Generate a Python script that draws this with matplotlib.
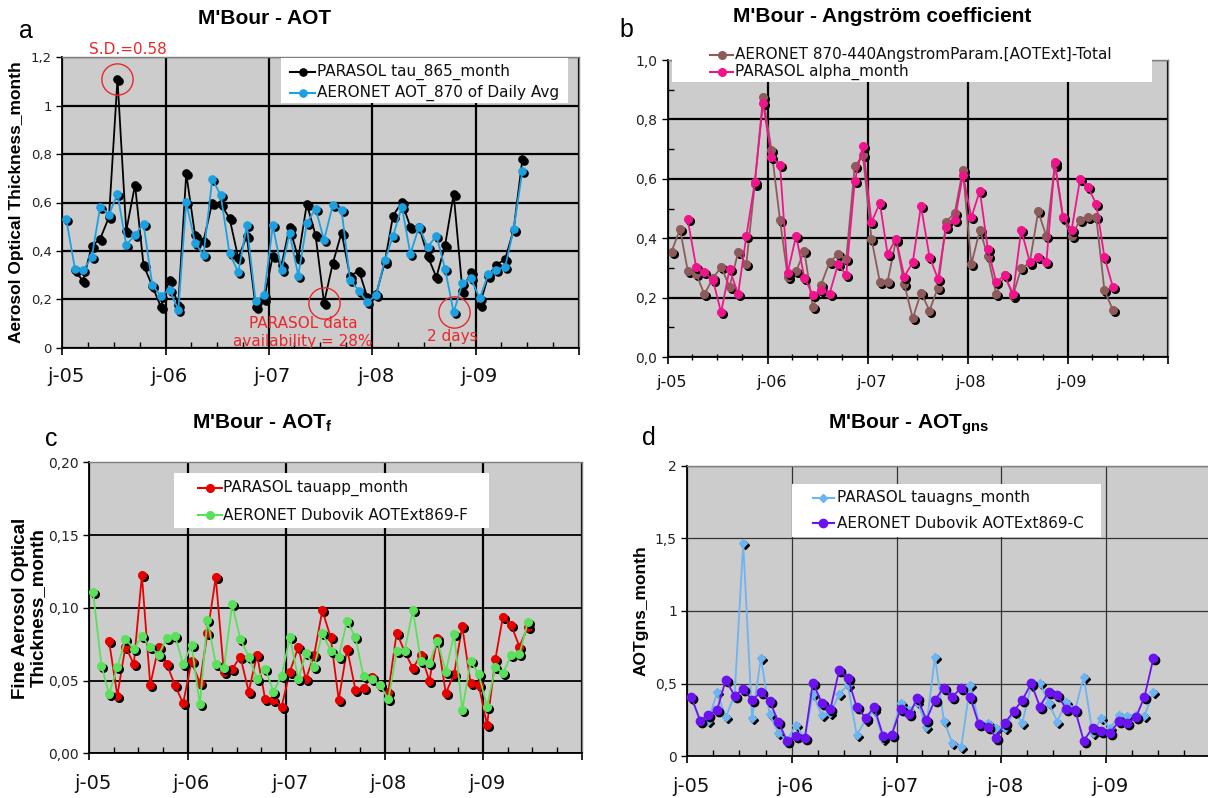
import numpy as np
import pandas as pd
import matplotlib
matplotlib.use('Agg')
import matplotlib.pyplot as plt
import matplotlib.dates as mdates
import matplotlib.transforms as mtransforms
from matplotlib.lines import Line2D
from matplotlib.patches import Rectangle
from matplotlib.ticker import FixedLocator

nan = np.nan
# ---------------- data (monthly, Jan 2005 .. Jun 2009) ----------------
months = pd.date_range('2005-01-01', '2009-06-01', freq='MS') + pd.Timedelta(days=14)
year_labels = ['j-05', 'j-06', 'j-07', 'j-08', 'j-09']

# panel a : AOT
parasol_tau865 = [nan, 0.32, 0.275, 0.42, 0.45, 0.54, 1.11, 0.483, 0.673, 0.342,
                  0.255, 0.17, 0.28, 0.177, 0.72, 0.466, 0.441, 0.60, 0.594, 0.535,
                  0.37, 0.463, 0.17, 0.20, 0.38, 0.342, 0.498, 0.37, 0.594, 0.465,
                  0.186, 0.349, 0.476, 0.295, 0.319, 0.208, 0.22, 0.355, 0.546, 0.601,
                  0.50, 0.50, 0.379, 0.291, 0.425, 0.636, 0.236, 0.314, 0.177, 0.298,
                  0.342, 0.366, 0.487, 0.779]
aeronet_aot870 = [0.531, 0.324, 0.32, 0.374, 0.583, 0.55, 0.636, 0.425, 0.466, 0.512,
                  0.259, 0.215, 0.239, 0.156, 0.601, 0.434, 0.383, 0.698, 0.629, 0.39,
                  0.312, 0.505, 0.194, 0.218, 0.505, 0.321, 0.473, 0.298, 0.514, 0.575,
                  0.445, 0.59, 0.567, 0.28, 0.236, 0.188, 0.218, 0.363, 0.462, 0.583,
                  0.388, 0.50, 0.415, 0.463, 0.324, 0.146, 0.266, 0.287, 0.204, 0.305,
                  0.321, 0.335, 0.49, 0.732]

# panel b : Angstrom coefficient
aeronet_angstrom = [0.355, 0.431, 0.291, 0.28, 0.211, 0.265, 0.303, 0.237, 0.352, 0.312,
                    0.582, 0.874, 0.698, 0.462, 0.271, 0.288, 0.358, 0.167, 0.243, 0.319,
                    0.346, 0.33, 0.642, 0.679, 0.398, 0.252, 0.254, 0.394, 0.245, 0.13,
                    0.217, 0.156, 0.234, 0.456, 0.484, 0.63, 0.312, 0.428, 0.34, 0.211,
                    0.276, 0.207, 0.299, 0.316, 0.49, 0.406, 0.647, 0.467, 0.406, 0.462,
                    0.473, 0.471, 0.224, 0.158]
parasol_alpha = [nan, nan, 0.463, 0.303, 0.285, 0.26, 0.15, 0.296, 0.211, 0.406,
                 0.588, 0.855, 0.673, 0.647, 0.282, 0.409, 0.267, 0.209, 0.226, 0.213,
                 0.312, 0.276, 0.591, 0.711, 0.454, 0.518, 0.346, 0.398, 0.271, 0.319,
                 0.509, 0.338, 0.263, 0.439, 0.46, 0.613, 0.47, 0.56, 0.364, 0.251,
                 0.276, 0.212, 0.428, 0.321, 0.338, 0.321, 0.656, 0.47, 0.428, 0.599,
                 0.572, 0.516, 0.336, 0.235]

# panel c : fine mode AOT
parasol_tauapp = [nan, nan, 0.0773, 0.0397, 0.0734, 0.0613, 0.1223, 0.047, 0.0734, 0.0615,
                  0.0466, 0.0344, 0.0631, 0.0482, 0.0826, 0.1209, 0.0557, 0.0578, 0.0665, 0.0424,
                  0.0677, 0.0374, 0.0367, 0.0321, 0.0562, 0.0729, 0.0509, 0.0677, 0.0982, 0.0798,
                  0.0367, 0.0718, 0.0436, 0.0452, 0.0523, 0.047, 0.0424, 0.083, 0.07, 0.0585,
                  0.0677, 0.05, 0.0791, 0.0413, 0.0546, 0.0872, 0.0482, 0.047, 0.0195, 0.0649,
                  0.094, 0.0879, 0.0734, 0.0865]
aeronet_fine = [0.1108, 0.0603, 0.0408, 0.059, 0.0787, 0.0716, 0.0803, 0.0734, 0.0677, 0.0791,
                0.0807, 0.0613, 0.0746, 0.0337, 0.0918, 0.0615, 0.0585, 0.1025, 0.0785, 0.0665,
                0.0512, 0.058, 0.0424, 0.0534, 0.0798, 0.0509, 0.0688, 0.0596, 0.0826, 0.0706,
                0.0665, 0.0911, 0.0796, 0.0528, 0.0509, 0.047, 0.0372, 0.07, 0.07, 0.0986,
                0.0631, 0.062, 0.0773, 0.0562, 0.0819, 0.0298, 0.0631, 0.0544, 0.0321, 0.0596,
                0.055, 0.0677, 0.0681, 0.0899]

# panel d : non-spherical coarse AOT
parasol_tauagns = [0.40, 0.24, 0.24, 0.44, 0.268, 0.42, 1.466, 0.261, 0.679, 0.291,
                   0.158, 0.112, 0.216, 0.124, 0.427, 0.284, 0.296, 0.429, 0.491, 0.147,
                   0.25, 0.319, 0.119, 0.147, 0.365, 0.319, 0.376, 0.204, 0.686, 0.245,
                   0.089, 0.067, 0.491, 0.232, 0.232, 0.197, 0.193, 0.307, 0.232, 0.491,
                   0.507, 0.365, 0.239, 0.376, 0.319, 0.548, 0.158, 0.261, 0.193, 0.284,
                   0.28, 0.284, 0.278, 0.445]
aeronet_coarse = [0.41, 0.245, 0.284, 0.319, 0.525, 0.417, 0.461, 0.388, 0.44, 0.383,
                  0.234, 0.108, 0.142, 0.124, 0.507, 0.369, 0.323, 0.594, 0.541, 0.337,
                  0.266, 0.337, 0.142, 0.147, 0.326, 0.291, 0.399, 0.25, 0.388, 0.472,
                  0.41, 0.472, 0.406, 0.22, 0.204, 0.128, 0.232, 0.312, 0.388, 0.502,
                  0.342, 0.445, 0.422, 0.326, 0.319, 0.106, 0.197, 0.174, 0.158, 0.245,
                  0.227, 0.268, 0.41, 0.674]

# ---------------- styling ----------------
plt.rcParams['font.family'] = ['DejaVu Sans']
plt.rcParams['mathtext.fontset'] = 'custom'
plt.rcParams['mathtext.bf'] = 'Liberation Sans:bold'
plt.rcParams['mathtext.rm'] = 'Liberation Sans'

BG = '#CCCCCC'
RED = '#E8282B'
W, H = 1208, 798
fig = plt.figure(figsize=(W / 100, H / 100), dpi=100)

def fx(px):
    return px / W

def fy(py):
    return 1 - py / H

def make_ax(l, r, t, b):
    return fig.add_axes([fx(l), fy(b), fx(r) - fx(l), fy(t) - fy(b)])

x = mdates.date2num(months.to_pydatetime())
year_ticks = mdates.date2num(pd.date_range('2005-01-01', '2010-01-01', freq='YS').to_pydatetime())
quarter_ticks = mdates.date2num(pd.date_range('2005-01-01', '2010-01-01', freq='QS').to_pydatetime())
XMIN, XMAX = year_ticks[0], year_ticks[-1]

shadow_off = mtransforms.ScaledTranslation(2.0 / 100, -2.0 / 100, fig.dpi_scale_trans)


def style_axes(ax, ylim, yticks, ylabels, ytick_fs, gcolor, vg_lw, hg_lw,
               xlab_fs, xlab_dy, yminor=None, minor_dir='in'):
    ax.set_facecolor(BG)
    ax.set_xlim(XMIN, XMAX)
    ax.set_ylim(*ylim)
    ax.set_xticks(year_ticks)
    ax.set_xticklabels([])
    ax.set_xticks(quarter_ticks, minor=True)
    ax.set_yticks(yticks)
    ax.set_yticklabels(ylabels, fontsize=ytick_fs, color='#222222')
    if yminor is not None:
        ax.yaxis.set_minor_locator(FixedLocator(yminor))
    ax.tick_params(axis='x', which='major', direction='out', length=5, width=1.2)
    ax.tick_params(axis='x', which='minor', direction=minor_dir, length=4, width=1)
    ax.tick_params(axis='y', which='major', direction='out', length=4, width=1, pad=3.5)
    ax.tick_params(axis='y', which='minor', direction='in', length=4, width=1)
    ax.grid(True, which='major', axis='x', color=gcolor, lw=vg_lw)
    ax.grid(True, which='major', axis='y', color=gcolor, lw=hg_lw)
    ax.set_axisbelow(True)
    for s in ('left', 'bottom'):
        ax.spines[s].set_color('black')
        ax.spines[s].set_linewidth(1.3)
    for s in ('top', 'right'):
        ax.spines[s].set_color('#7F7F7F')
        ax.spines[s].set_linewidth(1.0)
    trans = mtransforms.blended_transform_factory(ax.transData, ax.transAxes) + \
        mtransforms.ScaledTranslation(3.5 / 100, -xlab_dy / 100, fig.dpi_scale_trans)
    for xt, lab in zip(year_ticks, year_labels):
        ax.text(xt, 0, lab, transform=trans, ha='center', va='center',
                fontsize=xlab_fs, color='#111111', clip_on=False)


def series(ax, y, color, marker, ms, lw, z):
    y = np.asarray(y, float)
    ax.plot(x, y, ls='none', marker=marker, ms=ms, color='black', mec='black',
            transform=ax.transData + shadow_off, zorder=z, clip_on=False)
    ax.plot(x, y, color=color, lw=lw, marker=marker, ms=ms, mfc=color, mec=color,
            zorder=z + 0.1, clip_on=False)


def legend_box(l, t, r, b, rows, fs):
    fig.add_artist(Rectangle((fx(l), fy(b)), fx(r) - fx(l), fy(t) - fy(b),
                             transform=fig.transFigure, facecolor='white',
                             edgecolor='none', zorder=5))
    for (yy, lx1, lx2, tx, color, marker, ms, text) in rows:
        fig.add_artist(Line2D([fx(lx1), fx(lx2)], [fy(yy), fy(yy)], color=color, lw=1.5,
                              transform=fig.transFigure, zorder=6))
        fig.add_artist(Line2D([fx((lx1 + lx2) / 2)], [fy(yy)], marker=marker, ms=ms,
                              color=color, ls='none', transform=fig.transFigure, zorder=6))
        fig.text(fx(tx), fy(yy), text, fontsize=fs, va='center', ha='left',
                 color='#111111', zorder=7)


def ftext(px, py, s, **kw):
    return fig.text(fx(px), fy(py), s, **kw)

TITLE_KW = dict(family='Liberation Sans', weight='bold', fontsize=15, ha='center', va='center')
YLAB_KW = dict(family='Liberation Sans', weight='bold', rotation=90, ha='center', va='center')
PLAB_KW = dict(family='Liberation Sans', fontsize=18, ha='center', va='center')

# ---------------- panel a ----------------
axa = make_ax(62.3, 579, 57.3, 347.7)
style_axes(axa, (0, 1.2), [0, 0.2, 0.4, 0.6, 0.8, 1.0, 1.2],
           ['0', '0,2', '0,4', '0,6', '0,8', '1', '1,2'], 9.5, 'black', 1.6, 1.6,
           14, 29)
series(axa, parasol_tau865, 'black', 'o', 5.2, 1.3, 2)
series(axa, aeronet_aot870, '#1BA1E2', 'o', 5.2, 1.3, 3)
pa = np.asarray(parasol_tau865)
aa = np.asarray(aeronet_aot870)
for xi, yi in ((x[6], pa[6]), (x[30], pa[30]), (x[45], aa[45])):
    axa.plot([xi], [yi], marker='o', ms=22.5, mfc='none', mec=RED, mew=1.0,
             ls='none', zorder=6, clip_on=False)
ftext(265, 18, "M'Bour - AOT", **TITLE_KW)
ftext(26, 31, 'a', **PLAB_KW)
ftext(17, 202, 'Aerosol Optical Thickness_month', fontsize=12.5, **YLAB_KW)
ftext(128, 49, 'S.D.=0.58', fontsize=11, color=RED, ha='center', va='center')
t1 = ftext(303, 332.5, 'PARASOL data\navailability = 28%', fontsize=11, color=RED,
           ha='center', va='center', linespacing=1.2)
t1.set_clip_box(axa.bbox)
t1.set_clip_on(True)
ftext(452.5, 336.7, '2 days', fontsize=11, color=RED, ha='center', va='center')
legend_box(281, 58.3, 568.3, 103.3,
           [(71.7, 290, 315, 317, 'black', 'o', 5.2, 'PARASOL tau_865_month'),
            (93.3, 290, 315, 317, '#1BA1E2', 'o', 5.2, 'AERONET AOT_870 of Daily Avg')], 11)

# ---------------- panel b ----------------
axb = make_ax(667.7, 1167.7, 60, 357)
style_axes(axb, (0, 1.0), [0, 0.2, 0.4, 0.6, 0.8, 1.0],
           ['0,0', '0,2', '0,4', '0,6', '0,8', '1,0'], 10, 'black', 1.6, 1.6,
           11.5, 25, yminor=[0.1, 0.3, 0.5, 0.7, 0.9], minor_dir='inout')
series(axb, aeronet_angstrom, '#8E5B5B', 'o', 5.5, 1.3, 2)
series(axb, parasol_alpha, '#F0148C', 'o', 5.5, 1.3, 3)
ftext(882, 16, "M'Bour - Angstr\u00f6m coefficient", **TITLE_KW)
ftext(626, 30, 'b', **PLAB_KW)
legend_box(671.7, 45, 1151.7, 81.7,
           [(55, 710, 733, 735, '#8E5B5B', 'o', 5.5, 'AERONET 870-440AngstromParam.[AOTExt]-Total'),
            (72, 710, 733, 735, '#F0148C', 'o', 5.5, 'PARASOL alpha_month')], 11)

# ---------------- panel c ----------------
axc = make_ax(89.3, 581.7, 462.3, 753.3)
style_axes(axc, (0, 0.20), [0, 0.05, 0.10, 0.15, 0.20],
           ['0,00', '0,05', '0,10', '0,15', '0,20'], 10, 'black', 1.6, 1.3,
           14, 30)
series(axc, parasol_tauapp, '#E60000', 'o', 5.5, 1.3, 2)
series(axc, aeronet_fine, '#5BE05B', 'o', 5.5, 1.3, 3)
ftext(262, 423, "M'Bour - AOT$_\\mathbf{f}$", **TITLE_KW)
ftext(51, 439, 'c', **PLAB_KW)
ftext(29, 608, 'Fine Aerosol Optical\nThickness_month', fontsize=13.5,
      multialignment='center', linespacing=1.05, **YLAB_KW)
legend_box(174, 473, 489, 528,
           [(488, 198, 222, 223.5, '#E60000', 'o', 5.5, 'PARASOL tauapp_month'),
            (515, 198, 222, 223.5, '#5BE05B', 'o', 5.5, 'AERONET Dubovik AOTExt869-F')], 11)

# ---------------- panel d ----------------
axd = make_ax(687.3, 1210.7, 465.7, 756.3)
style_axes(axd, (0, 2.0), [0, 0.5, 1.0, 1.5, 2.0],
           ['0', '0,5', '1', '1,5', '2'], 10, '#333333', 0.9, 0.9,
           14, 30)
series(axd, parasol_tauagns, '#6CB4F2', 'D', 4.3, 1.3, 2)
series(axd, aeronet_coarse, '#6B12F0', 'o', 6.0, 1.3, 3)
ftext(909, 425, "M'Bour - AOT$_\\mathbf{gns}$", **TITLE_KW)
ftext(649, 438, 'd', **PLAB_KW)
ftext(641.5, 611, 'AOTgns_month', fontsize=12.5, **YLAB_KW)
legend_box(792, 484.3, 1101, 536.7,
           [(497.7, 812.7, 834, 836.7, '#6CB4F2', 'D', 4.3, 'PARASOL tauagns_month'),
            (523.3, 812.7, 834, 836.7, '#6B12F0', 'o', 6.0, 'AERONET Dubovik AOTExt869-C')], 11)

fig.savefig('out.png', dpi=100)
